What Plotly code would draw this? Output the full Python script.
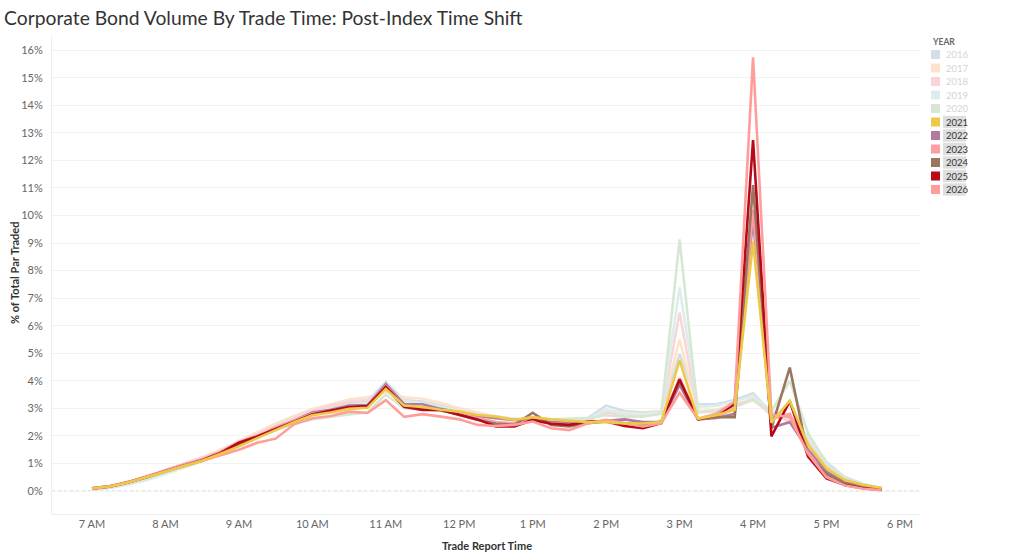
import plotly.graph_objects as go

# ---------------- data ----------------
times = [7 + 0.25 * k for k in range(44)]  # 7:00 AM .. 5:45 PM, 15-minute buckets

tick_hours = [7, 8, 9, 10, 11, 12, 13, 14, 15, 16, 17, 18]
tick_labels = ["7 AM", "8 AM", "9 AM", "10 AM", "11 AM", "12 PM",
               "1 PM", "2 PM", "3 PM", "4 PM", "5 PM", "6 PM"]

y_ticks = list(range(0, 17))
y_tick_labels = [f"{v}%" for v in y_ticks]

years = ["2016", "2017", "2018", "2019", "2020", "2021", "2022", "2023", "2024", "2025", "2026"]
highlighted = ["2021", "2022", "2023", "2024", "2025", "2026"]

v2016 = [0.06, 0.12, 0.25, 0.42, 0.65, 0.88, 1.10, 1.38, 1.68, 2.00, 2.30, 2.60, 2.88, 3.05, 3.20, 3.25,
         3.95, 3.30, 3.25, 3.10, 2.95, 2.80, 2.70, 2.62, 2.60, 2.55, 2.60, 2.65, 3.10, 2.90, 2.85, 2.90,
         4.97, 3.15, 3.15, 3.30, 3.55, 2.85, 2.50, 2.00, 1.05, 0.50, 0.25, 0.10]
v2017 = [0.08, 0.16, 0.32, 0.52, 0.76, 1.00, 1.22, 1.50, 1.82, 2.15, 2.45, 2.72, 2.98, 3.15, 3.32, 3.40,
         3.60, 3.40, 3.35, 3.20, 3.00, 2.85, 2.70, 2.62, 2.60, 2.55, 2.55, 2.60, 2.90, 2.85, 2.80, 2.90,
         5.50, 2.90, 2.95, 3.15, 3.30, 2.80, 2.55, 1.85, 0.95, 0.45, 0.22, 0.10]
v2018 = [0.08, 0.16, 0.32, 0.52, 0.75, 0.98, 1.20, 1.45, 1.78, 2.08, 2.38, 2.65, 2.92, 3.08, 3.25, 3.30,
         3.75, 3.30, 3.20, 3.05, 2.90, 2.78, 2.65, 2.55, 2.55, 2.50, 2.50, 2.55, 2.85, 2.75, 2.72, 2.85,
         6.47, 2.85, 2.90, 3.10, 3.35, 2.75, 2.60, 1.80, 0.90, 0.42, 0.20, 0.08]
v2019 = [0.06, 0.12, 0.24, 0.40, 0.62, 0.85, 1.08, 1.35, 1.65, 1.98, 2.28, 2.55, 2.82, 2.98, 3.12, 3.18,
         3.85, 3.25, 3.18, 3.05, 2.90, 2.78, 2.68, 2.60, 2.58, 2.55, 2.58, 2.62, 2.95, 2.80, 2.78, 2.85,
         7.39, 3.05, 3.10, 3.25, 3.45, 2.90, 2.70, 1.95, 1.00, 0.48, 0.24, 0.10]
v2020 = [0.07, 0.14, 0.28, 0.45, 0.68, 0.90, 1.10, 1.35, 1.65, 1.95, 2.20, 2.45, 2.60, 2.70, 2.78, 2.85,
         3.50, 3.00, 2.95, 2.90, 2.85, 2.75, 2.65, 2.60, 2.62, 2.60, 2.62, 2.65, 2.75, 2.70, 2.70, 2.80,
         9.13, 2.85, 2.90, 3.05, 3.30, 2.90, 4.00, 2.10, 1.00, 0.50, 0.25, 0.10]
v2021 = [0.10, 0.17, 0.32, 0.50, 0.70, 0.90, 1.10, 1.35, 1.62, 1.92, 2.22, 2.50, 2.75, 2.85, 2.98, 3.02,
         3.70, 3.10, 3.05, 2.95, 2.88, 2.76, 2.70, 2.58, 2.68, 2.60, 2.55, 2.50, 2.50, 2.45, 2.45, 2.50,
         4.75, 2.62, 2.75, 2.95, 9.05, 2.48, 3.28, 1.67, 0.82, 0.40, 0.22, 0.12]
v2022 = [0.10, 0.18, 0.33, 0.52, 0.74, 0.95, 1.12, 1.38, 1.70, 1.98, 2.30, 2.55, 2.85, 2.95, 3.10, 3.12,
         3.88, 3.15, 3.15, 2.98, 2.85, 2.72, 2.64, 2.58, 2.60, 2.50, 2.48, 2.50, 2.55, 2.60, 2.50, 2.50,
         3.85, 2.60, 2.65, 2.80, 9.90, 2.30, 2.50, 1.50, 0.70, 0.32, 0.15, 0.07]
v2023 = [0.10, 0.18, 0.34, 0.54, 0.76, 0.96, 1.15, 1.42, 1.78, 2.00, 2.30, 2.55, 2.80, 2.92, 3.05, 3.08,
         3.80, 3.05, 3.00, 2.92, 2.80, 2.65, 2.50, 2.45, 2.55, 2.45, 2.42, 2.48, 2.52, 2.45, 2.40, 2.48,
         4.10, 2.62, 2.70, 3.00, 10.20, 2.60, 2.80, 1.40, 0.55, 0.25, 0.12, 0.05]
v2024 = [0.10, 0.17, 0.32, 0.50, 0.72, 0.92, 1.10, 1.35, 1.68, 1.95, 2.25, 2.50, 2.78, 2.90, 3.02, 3.08,
         3.75, 3.08, 3.00, 2.94, 2.76, 2.58, 2.44, 2.40, 2.84, 2.40, 2.34, 2.46, 2.52, 2.46, 2.40, 2.52,
         3.95, 2.60, 2.68, 2.68, 11.10, 2.28, 4.48, 1.27, 0.62, 0.28, 0.16, 0.05]
v2025 = [0.08, 0.16, 0.32, 0.52, 0.72, 0.92, 1.12, 1.38, 1.75, 1.98, 2.25, 2.52, 2.78, 2.92, 3.05, 3.08,
         3.78, 3.06, 2.94, 2.94, 2.78, 2.60, 2.34, 2.34, 2.58, 2.44, 2.40, 2.52, 2.52, 2.36, 2.28, 2.46,
         4.05, 2.60, 2.75, 3.15, 12.74, 1.98, 3.26, 1.25, 0.46, 0.22, 0.10, 0.04]
v2026 = [0.08, 0.16, 0.32, 0.52, 0.74, 0.92, 1.10, 1.30, 1.50, 1.75, 1.90, 2.42, 2.64, 2.72, 2.88, 2.83,
         3.30, 2.69, 2.79, 2.70, 2.60, 2.40, 2.36, 2.40, 2.52, 2.28, 2.21, 2.46, 2.58, 2.46, 2.34, 2.46,
         3.57, 2.62, 2.80, 3.25, 15.74, 2.76, 2.70, 1.35, 0.50, 0.20, 0.08, 0.03]

series = {"2016": v2016, "2017": v2017, "2018": v2018, "2019": v2019, "2020": v2020,
          "2021": v2021, "2022": v2022, "2023": v2023, "2024": v2024, "2025": v2025, "2026": v2026}

base_colors = {"2016": "#4E79A7", "2017": "#F28E2B", "2018": "#E15759", "2019": "#76B7B2",
               "2020": "#59A14F", "2021": "#EDC948", "2022": "#B07AA1", "2023": "#FF9DA7",
               "2024": "#9C755F", "2025": "#B60A1C", "2026": "#FF9D9A"}


def faded(hex_color, a=0.25):
    h = hex_color.lstrip("#")
    r, g, b = int(h[0:2], 16), int(h[2:4], 16), int(h[4:6], 16)
    mix = lambda c: int(round(a * c + (1 - a) * 255))
    return f"rgb({mix(r)},{mix(g)},{mix(b)})"


def color_of(y):
    return base_colors[y] if y in highlighted else faded(base_colors[y])


# ---------------- layout geometry (pixels) ----------------
W, H = 1024, 557
L, R, T, B = 52, 920, 35, 514


def px(x):
    return (x - L) / (R - L)


def py(y):
    return (B - y) / (B - T)


fig = go.Figure()

draw_order = ["2016", "2017", "2018", "2019", "2020", "2022", "2023", "2024", "2025", "2026", "2021"]
for yr in draw_order:
    fig.add_trace(go.Scatter(
        x=times, y=series[yr], mode="lines", name=yr,
        line=dict(color=color_of(yr), width=2.6),
        showlegend=False,
        hovertemplate=yr + ": %{y:.2f}%<extra></extra>",
    ))

shapes = [dict(type="line", xref="paper", yref="y", x0=0, x1=1, y0=0, y1=0,
               line=dict(color="#cfcfcf", width=1, dash="dot"), layer="below")]
annotations = []

# axis titles
annotations.append(dict(text="<b>Trade Report Time</b>", xref="paper", yref="paper",
                        x=px(487), y=py(545), xanchor="center", yanchor="middle", showarrow=False,
                        font=dict(family="Lato", size=11, color="#333333")))
annotations.append(dict(text="<b>% of Total Par Traded</b>", xref="paper", yref="paper",
                        x=px(14), y=py(273), xanchor="center", yanchor="middle", showarrow=False,
                        textangle=-90, font=dict(family="Lato", size=11, color="#333333")))

# legend (manual, Tableau style)
annotations.append(dict(text="<b>YEAR</b>", xref="paper", yref="paper", x=px(930), y=py(42),
                        xanchor="left", yanchor="middle", showarrow=False,
                        font=dict(family="Lato", size=8.5, color="#666666")))
for k, yr in enumerate(years):
    cy = 54.5 + 13.5 * k
    if yr in highlighted:
        shapes.append(dict(type="rect", xref="paper", yref="paper",
                           x0=px(943), x1=px(966), y0=py(cy - 6.2), y1=py(cy + 6.2),
                           fillcolor="#dedede", line=dict(width=0)))
    shapes.append(dict(type="rect", xref="paper", yref="paper",
                       x0=px(931), x1=px(940), y0=py(cy - 4.5), y1=py(cy + 4.5),
                       fillcolor=color_of(yr), line=dict(width=0)))
    annotations.append(dict(text=yr, xref="paper", yref="paper", x=px(944), y=py(cy),
                            xanchor="left", yanchor="middle", showarrow=False,
                            font=dict(family="Lato", size=9.5,
                                      color="#333333" if yr in highlighted else "#d4d4d4")))

fig.update_layout(
    width=W, height=H,
    margin=dict(l=L, r=W - R, t=T, b=H - B, autoexpand=False),
    paper_bgcolor="white", plot_bgcolor="white",
    title=dict(text="Corporate Bond Volume By Trade Time: Post-Index Time Shift",
               x=0.004, xanchor="left", y=0.967, yanchor="middle",
               font=dict(family="Lato", size=19.3, color="#333333")),
    xaxis=dict(range=[7 - 40 / 73.45, 7 + (R - 92) / 73.45], automargin=False,
               tickmode="array", tickvals=tick_hours, ticktext=tick_labels,
               showgrid=False, zeroline=False, showline=True, linecolor="#eeeeee",
               ticks="", tickfont=dict(family="Lato", size=11, color="#666666")),
    yaxis=dict(range=[(491 - B) / 27.55, (491 - T) / 27.55], automargin=False,
               tickmode="array", tickvals=y_ticks, ticktext=y_tick_labels,
               showgrid=True, gridcolor="#f2f2f2", gridwidth=1, zeroline=False,
               showline=True, linecolor="#eeeeee", ticks="", ticklabelstandoff=6,
               tickfont=dict(family="Lato", size=11, color="#666666")),
    shapes=shapes, annotations=annotations,
    showlegend=False,
)

fig.write_html("out.html")
